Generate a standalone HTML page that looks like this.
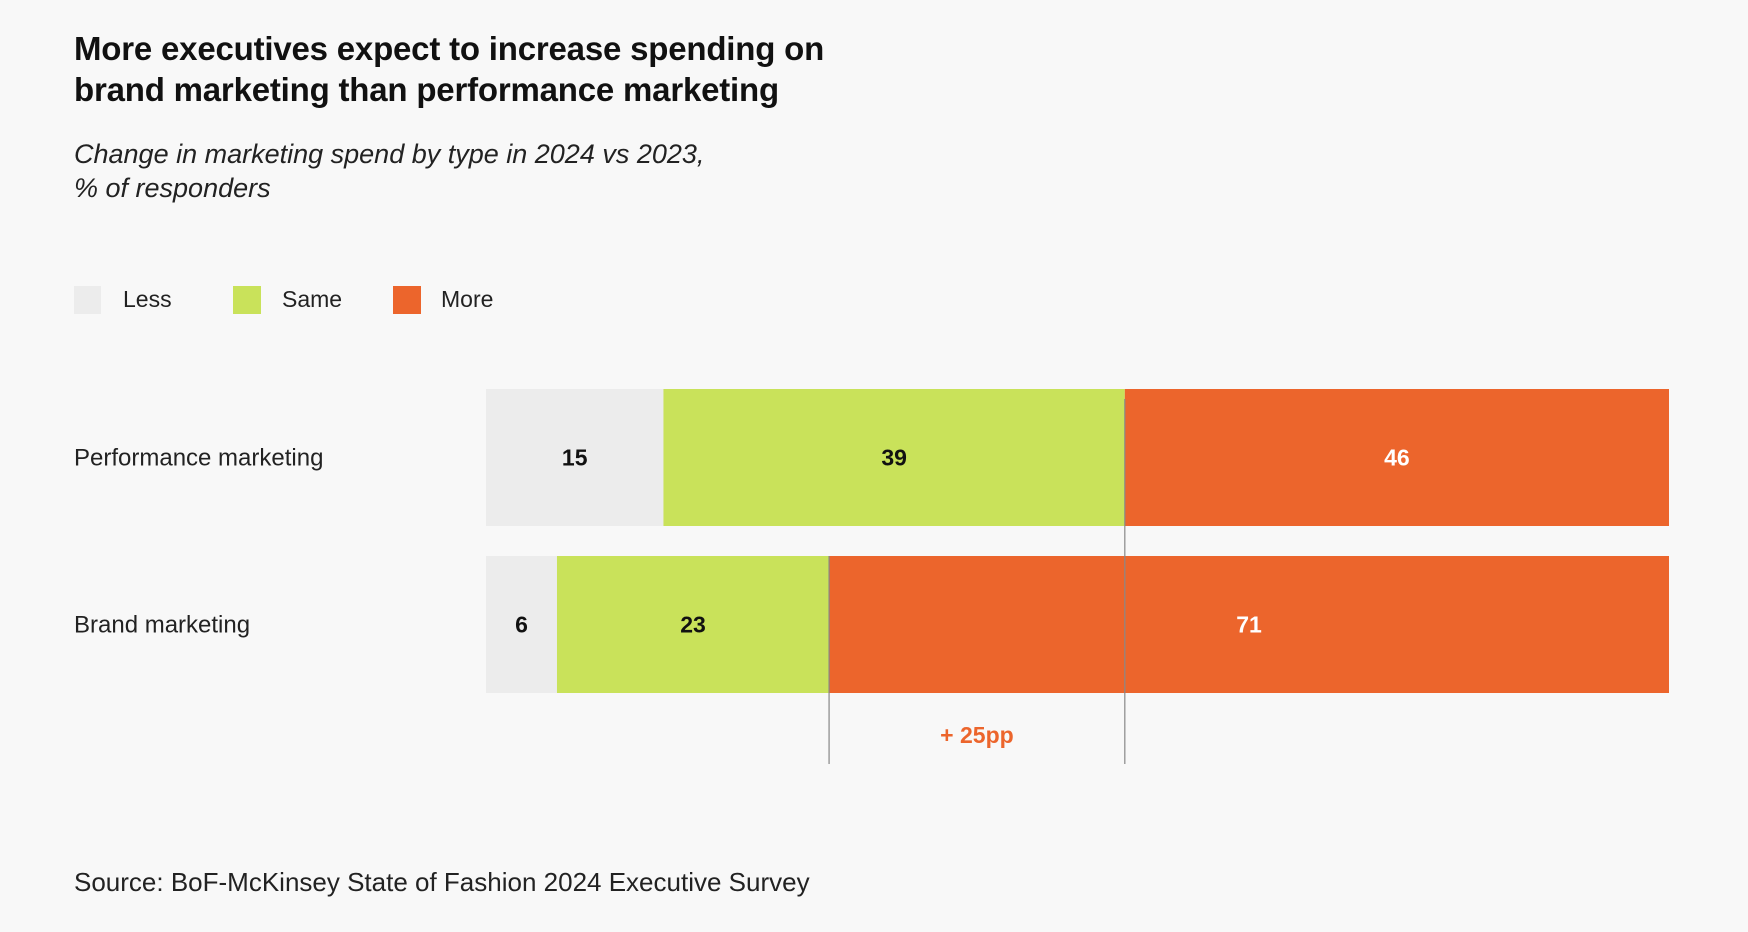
<!DOCTYPE html>
<html><head><meta charset="utf-8"><style>
body{margin:0;background:#f8f8f8;font-family:"Liberation Sans",sans-serif;}
#c{position:relative;width:1748px;height:932px;overflow:hidden;background:#f8f8f8;}
.t{position:absolute;color:#111;white-space:nowrap;}
</style></head><body>
<div id="c">
<div class="t" style="left:74px;top:28px;font-size:33px;font-weight:bold;line-height:41px;letter-spacing:-0.2px;">More executives expect to increase spending on<br>brand marketing than performance marketing</div>
<div class="t" style="left:74px;top:137px;font-size:27px;font-style:italic;line-height:34px;color:#222;">Change in marketing spend by type in 2024 vs 2023,<br>% of responders</div>
<div><div style="position:absolute;left:74px;top:286px;width:27px;height:28px;background:#ececec"></div><div class="t" style="left:123px;top:286px;font-size:23px;color:#222">Less</div></div>
<div><div style="position:absolute;left:233px;top:286px;width:28px;height:28px;background:#c9e25a"></div><div class="t" style="left:282px;top:286px;font-size:23px;color:#222">Same</div></div>
<div><div style="position:absolute;left:393px;top:286px;width:28px;height:28px;background:#ec652c"></div><div class="t" style="left:441px;top:286px;font-size:23px;color:#222">More</div></div>
<svg id="s" width="1748" height="932" style="position:absolute;left:0;top:0"></svg>
<div class="t" style="left:74px;top:867px;font-size:26px;color:#222;">Source: BoF-McKinsey State of Fashion 2024 Executive Survey</div>
</div>
<script>
const categories=["Performance marketing","Brand marketing"];
const lessVals=[15,6];
const sameVals=[39,23];
const moreVals=[46,71];
const seriesColors=["#ececec","#c9e25a","#ec652c"];
const textColors=["#111","#111","#fff"];
const diffLabel="+ 25pp";
const svg=document.getElementById('s');
const NS="http://www.w3.org/2000/svg";
const x0=486,x1=1669;
const xs=v=>x0+(x1-x0)*v/100;
const rowTop=[389,556],bh=137;
function mk(t,a){const e=document.createElementNS(NS,t);for(const k in a)e.setAttribute(k,a[k]);svg.appendChild(e);return e;}
categories.forEach((c,i)=>{
  const lab=mk('text',{x:74,y:rowTop[i]+bh/2+8,'font-size':24,fill:'#222','font-family':'Liberation Sans, sans-serif'});
  lab.textContent=c;
  
  
  const vals=[lessVals[i],sameVals[i],moreVals[i]];
  let acc=0;
  vals.forEach((v,j)=>{
    const r=mk('rect',{x:xs(acc),y:rowTop[i],width:xs(acc+v)-xs(acc),height:bh,fill:seriesColors[j]});
    
    
    const tx=mk('text',{x:(xs(acc)+xs(acc+v))/2,y:rowTop[i]+bh/2+8,'font-size':23,'font-weight':'bold',fill:textColors[j],'text-anchor':'middle','font-family':'Liberation Sans, sans-serif'});
    tx.textContent=v;
    
    
    acc+=v;
  });
});
const xa=xs(lessVals[1]+sameVals[1]), xb=xs(lessVals[0]+sameVals[0]);
const l1=mk('line',{x1:xa,x2:xa,y1:rowTop[1],y2:764,stroke:'#888','stroke-width':1.2});


const l2=mk('line',{x1:xb,x2:xb,y1:rowTop[0]+10,y2:764,stroke:'#888','stroke-width':1.2});


const d=mk('text',{x:(xa+xb)/2,y:743,'font-size':23,'font-weight':'bold',fill:'#ec652c','text-anchor':'middle','font-family':'Liberation Sans, sans-serif'});
d.textContent=diffLabel;


</script>
</body></html>
